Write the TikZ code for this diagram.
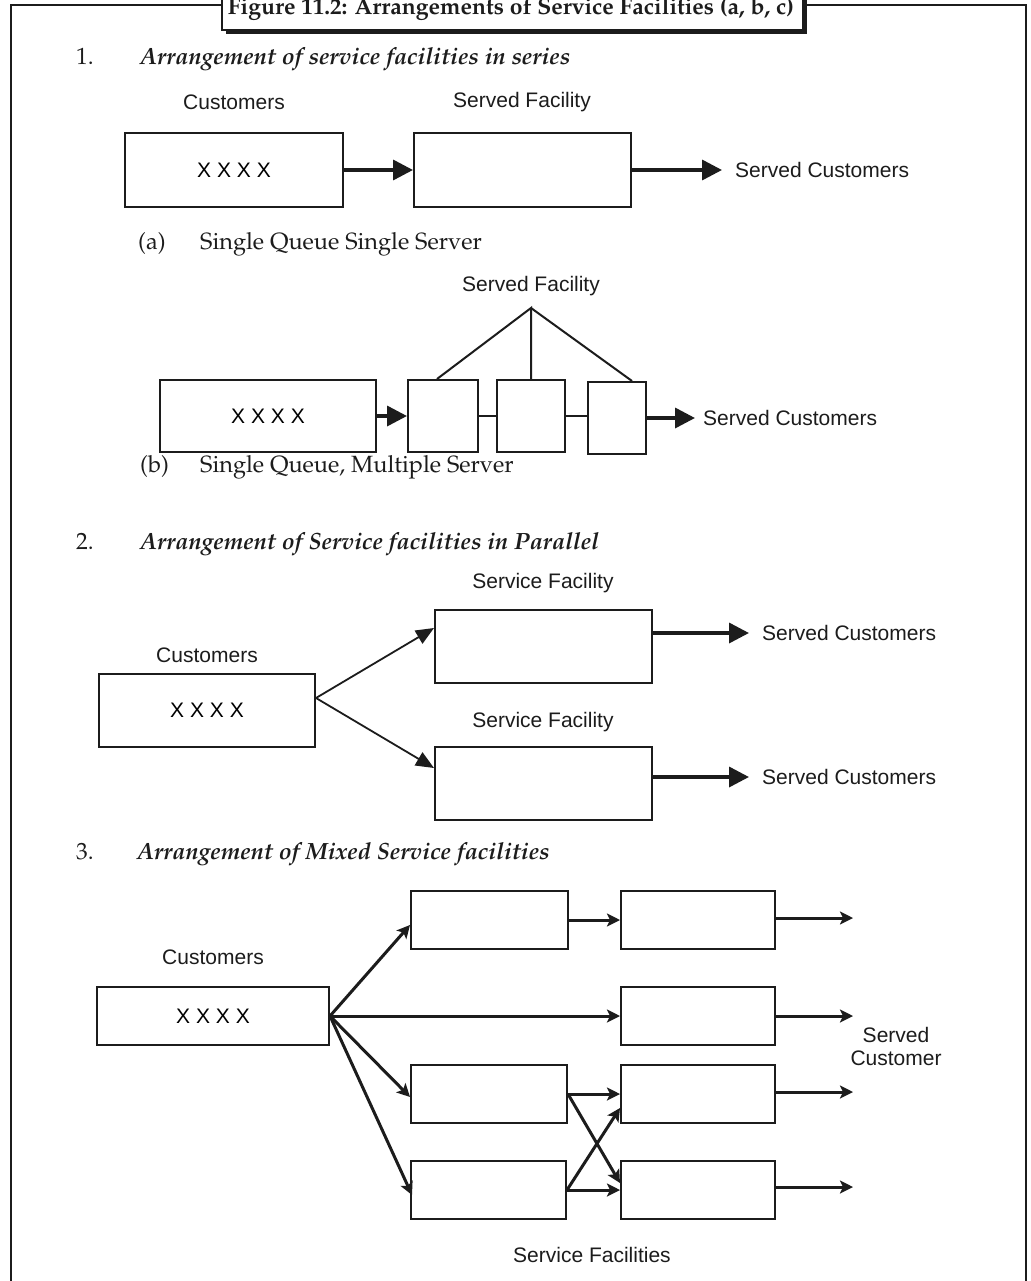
\documentclass[tikz,border=0pt]{standalone}
\usepackage[T1,TU]{fontenc}
\usepackage{fontspec}
\newfontfamily\arialfont{Liberation Sans}
\newcommand\pala[1]{\fontencoding{T1}\fontfamily{ppl}\fontsize{#1}{#1}\selectfont}
\usetikzlibrary{arrows.meta}
\definecolor{ink}{HTML}{1C1C1C}
\tikzset{
  box/.style={draw=ink, line width=2pt, rectangle, inner sep=0pt, fill=white,
    font=\arialfont\fontsize{21}{25}\selectfont},
  lab/.style={inner sep=0pt, text=ink, font=\arialfont\fontsize{21}{25}\selectfont},
  headtxt/.style={inner sep=0pt, text=ink, font={\pala{23.5}\bfseries\itshape}},
  numtxt/.style={inner sep=0pt, text=ink, font={\pala{23.5}}},
  captxt/.style={inner sep=0pt, text=ink, font={\pala{23.5}}},
  bigarrow/.style={draw=ink, line width=3.5pt, -{Triangle[length=20pt,width=20pt]}},
  fanarrow/.style={draw=ink, line width=1.8pt, -{Triangle[length=18pt,width=15pt]}},
  mixarrow/.style={draw=ink, line width=3pt, -{Stealth[length=13pt,width=13pt,inset=3pt]}},
  plain/.style={draw=ink, line width=2pt},
}
\begin{document}
\begin{tikzpicture}[x=1pt,y=-1pt]
\useasboundingbox (0,0) rectangle (1030,1281);
\fill[white] (0,0) rectangle (1030,1281);

% outer frame
\draw[ink, line width=2.5pt] (11,1290) -- (11,5) -- (1026,5) -- (1026,1290);

% caption box with drop shadow
\fill[ink] (226,-5) rectangle (807,34);
\draw[ink, line width=2pt, fill=white] (222,-5) rectangle (803,30);
\node[inner sep=0pt, text=ink, font={\pala{23}\bfseries}, anchor=base] (title) at (511,15)
  {Figure 11.2: Arrangements of Service Facilities (a, b, c)};

% ---------- 1. series ----------
\node[numtxt, anchor=base west] (n1) at (76,65) {1.};
\node[headtxt, anchor=base west] (h1) at (140,65) {Arrangement of service facilities in series};

\node[lab] (c1) at (234,102) {Customers};
\node[lab] (sf1) at (522,102) {Served Facility};
\node[box, minimum width=218pt, minimum height=74pt] (qa) at (234,170) {X X X X};
\node[box, minimum width=217pt, minimum height=74pt] (sa) at (522.5,170) {};
\node[lab, anchor=west] (sc1) at (735,170) {Served Customers};
\draw[bigarrow] (qa.east) -- (sa.west);
\draw[bigarrow, shorten >=13pt] (sa.east) -- (sc1.west);

\node[captxt, anchor=base west] (la) at (138,249) {(a)};
\node[captxt, anchor=base west] (ta) at (200,249) {Single Queue Single Server};

% ---------- 1(b) ----------
\node[lab] (sf2) at (531,286) {Served Facility};
\coordinate (apex) at (531,308);
\node[box, minimum width=216pt, minimum height=72pt] (qb) at (268,416) {X X X X};
\node[box, minimum width=70pt, minimum height=72pt] (s1) at (443,416) {};
\node[box, minimum width=68pt, minimum height=72pt] (s2) at (531,416) {};
\node[box, minimum width=58pt, minimum height=72pt] (s3) at (617,418) {};
\node[lab, anchor=west] (sc2) at (703,418) {Served Customers};
\draw[plain] ([xshift=-6pt]s1.north) -- (apex) -- (s2.north);
\draw[plain] (apex) -- ([xshift=15pt]s3.north);
\draw[plain] (s1.east) -- (s2.west);
\draw[plain] (s2.east) -- (s2.east -| s3.west);
\draw[bigarrow] (qb.east) -- (s1.west);
\draw[bigarrow, shorten >=8pt] (s3.east) -- (sc2.west);

\node[captxt, anchor=base west] (lb) at (140,472) {(b)};
\node[captxt, anchor=base west] (tb) at (200,472) {Single Queue, Multiple Server};

% ---------- 2. parallel ----------
\node[numtxt, anchor=base west] (n2) at (76,549) {2.};
\node[headtxt, anchor=base west] (h2) at (140,549) {Arrangement of Service facilities in Parallel};

\node[lab] (sf3) at (543,583) {Service Facility};
\node[box, minimum width=217pt, minimum height=73pt] (pf1) at (543.5,646.5) {};
\node[lab, anchor=west] (sc3) at (762,633) {Served Customers};
\draw[bigarrow, shorten >=13pt] ([yshift=13.5pt]pf1.east) -- (sc3.west);

\node[lab] (c3) at (207,655) {Customers};
\node[box, minimum width=216pt, minimum height=73pt] (q3) at (207,710.5) {X X X X};
\coordinate (fan2) at ([yshift=12.5pt]q3.east);

\node[lab] (sf4) at (543,722) {Service Facility};
\node[box, minimum width=217pt, minimum height=73pt] (pf2) at (543.5,783.5) {};
\node[lab, anchor=west] (sc4) at (762,777) {Served Customers};
\draw[bigarrow, shorten >=13pt] ([yshift=6.5pt]pf2.east) -- (sc4.west);

\draw[fanarrow] (fan2) -- ([yshift=18.5pt]pf1.west);
\draw[fanarrow] (fan2) -- ([yshift=15.5pt]pf2.west);

% ---------- 3. mixed ----------
\node[numtxt, anchor=base west] (n3) at (76,859) {3.};
\node[headtxt, anchor=base west] (h3) at (137,859) {Arrangement of Mixed Service facilities};

\node[lab] (c5) at (213,957) {Customers};
\node[box, minimum width=232pt, minimum height=58pt] (q5) at (213,1016) {X X X X};

\node[box, minimum width=157pt, minimum height=58pt] (r1a) at (489.5,920) {};
\node[box, minimum width=154pt, minimum height=58pt] (r1b) at (698,920) {};
\node[box, minimum width=154pt, minimum height=58pt] (r2b) at (698,1016) {};
\node[box, minimum width=156pt, minimum height=58pt] (r3a) at (489,1094) {};
\node[box, minimum width=154pt, minimum height=58pt] (r3b) at (698,1094) {};
\node[box, minimum width=155pt, minimum height=58pt] (r4a) at (488.5,1190) {};
\node[box, minimum width=154pt, minimum height=58pt] (r4b) at (698,1190) {};

\coordinate (o1) at (853,918);
\coordinate (o2) at (853,1016);
\coordinate (o3) at (853,1092);
\coordinate (o4) at (853,1187);

\draw[mixarrow] (q5.east) -- ([yshift=-5pt]r1a.west);
\draw[mixarrow] (q5.east) -- (r2b.west);
\draw[mixarrow] (q5.east) -- ([yshift=-3pt]r3a.west);
\draw[mixarrow] (q5.east) -- ([xshift=2pt,yshift=-5pt]r4a.west);

\draw[mixarrow] (r1a.east) -- (r1b.west);
\draw[mixarrow] (r3a.east) -- (r3b.west);
\draw[mixarrow] (r3a.east) -- ([yshift=7pt]r4b.west);
\draw[mixarrow] (r4a.east) -- (r4b.west);
\draw[mixarrow] (r4a.east) -- ([yshift=-14pt]r3b.west);

\draw[mixarrow] (r1b.east |- o1) -- (o1);
\draw[mixarrow] (r2b.east |- o2) -- (o2);
\draw[mixarrow] (r3b.east |- o3) -- (o3);
\draw[mixarrow] (r4b.east |- o4) -- (o4);

\node[lab, align=center] (scx) at (896,1046) {Served\\[-2pt]Customer};
\node[lab] (sfx) at (592,1255) {Service Facilities};
\end{tikzpicture}
\end{document}
